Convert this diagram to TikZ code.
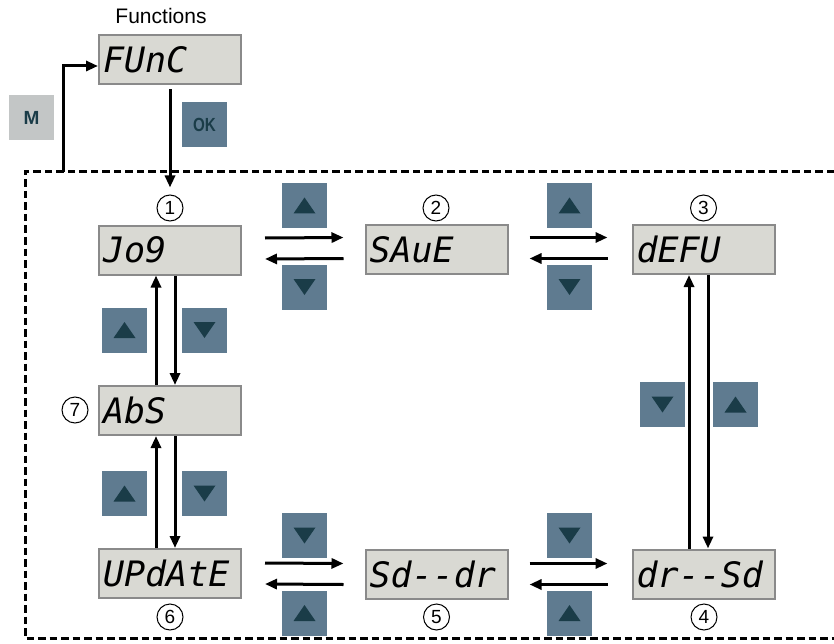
\documentclass[tikz,border=0pt]{standalone}
\usepackage{fontspec}
\setmainfont{Liberation Sans}
\newfontfamily\segfont{DejaVu Sans Mono}
\usetikzlibrary{arrows.meta,calc}
\definecolor{dispfill}{HTML}{D9D9D3}
\definecolor{displine}{HTML}{8A8A8A}
\definecolor{btnfill}{HTML}{5F7B90}
\definecolor{tridark}{HTML}{1A3C48}
\definecolor{mfill}{HTML}{C3C6C6}
\newcommand\numfont{\fontsize{19}{19}\selectfont}
\newcommand\keyfont{\fontsize{19}{19}\selectfont\bfseries}
\tikzset{
  disp/.style={draw=displine, line width=2pt, fill=dispfill, minimum width=142pt,
    minimum height=49pt, text width=134pt, align=left, inner xsep=4pt,
    font=\segfont\itshape\fontsize{35}{35}\selectfont},
  num/.style={draw, circle, line width=1pt, minimum size=26pt, inner sep=0pt},
  arr/.style={line width=3pt, -{Triangle[length=12pt,width=10pt]}},
  frame/.style={line width=3pt, dash pattern=on 7.5pt off 4pt},
  upbtn/.pic={\fill[btnfill] (-22.5,-22.5) rectangle (22.5,22.5);
    \fill[tridark] (-11,8) -- (11,8) -- (0,-8) -- cycle;},
  dnbtn/.pic={\fill[btnfill] (-22.5,-22.5) rectangle (22.5,22.5);
    \fill[tridark] (-11,-8) -- (11,-8) -- (0,8) -- cycle;},
  keybox/.style={minimum width=45pt, minimum height=45pt, inner sep=0pt, text=tridark}
}
\begin{document}
\begin{tikzpicture}[x=1pt,y=-1pt]
\useasboundingbox (0,0) rectangle (834,644);
% frame
\draw[frame] (834,172) -- (25,172) -- (25,638) -- (834,638);
\node (title) at (161,16) {\fontsize{21}{21}\selectfont Functions};
\node[disp] (func) at (170,60) {FUnC};
\node[keybox, fill=mfill] (mkey) at (31.5,118) {\keyfont M};
\node[keybox, fill=btnfill] (okkey) at (204.5,124.5) {\keyfont\scalebox{0.8}[1]{OK}};
\coordinate (mstart) at (63,172);
\draw[arr] (mstart) |- ([yshift=-6pt]func.west);
% displays
\node[disp] (jog) at (170,250) {Jo9};
\node[disp] (save) at (436.5,249.5) {SAuE};
\node[disp] (defu) at (703.5,249.5) {dEFU};
\node[disp] (abs) at (170,410.5) {AbS};
\node[disp] (upd) at (170,573.5) {UPdAtE};
\node[disp] (sddr) at (436.5,574) {Sd--dr};
\node[disp] (drsd) at (703.5,574) {dr--Sd};
% numbers
\node[num] (c1) at (170,208) {\numfont 1};
\node[num] (c2) at (436,208) {\numfont 2};
\node[num] (c3) at (703.5,208) {\numfont 3};
\node[num] (c4) at (704,617) {\numfont 4};
\node[num] (c5) at (436.5,617) {\numfont 5};
\node[num] (c6) at (170,617) {\numfont 6};
\node[num] (c7) at (75,410) {\numfont 7};
\draw[arr, shorten <=4pt, shorten >=7pt] (func.south) -- (c1.north);
% buttons
\pic at (304.5,205.5) {upbtn};
\pic at (304.5,287) {dnbtn};
\pic at (569.5,205.5) {upbtn};
\pic at (569.5,287) {dnbtn};
\pic at (124.5,330) {upbtn};
\pic at (204.5,330) {dnbtn};
\pic at (124.5,493.5) {upbtn};
\pic at (204.5,493.5) {dnbtn};
\pic at (662.5,404.5) {dnbtn};
\pic at (735.5,404.5) {upbtn};
\pic at (304.5,535.5) {dnbtn};
\pic at (304.5,613) {upbtn};
\pic at (569.5,535.5) {dnbtn};
\pic at (569.5,613) {upbtn};
% horizontal connectors
\draw[arr] ([xshift=23pt,yshift=12pt]jog.east) -- ([xshift=-21pt,yshift=12pt]save.west);
\draw[arr] ([xshift=-21pt,yshift=-9pt]save.west) -- ([xshift=23pt,yshift=-9pt]jog.east);
\draw[arr] ([xshift=21pt,yshift=12pt]save.east) -- ([xshift=-24pt,yshift=12pt]defu.west);
\draw[arr] ([xshift=-24pt,yshift=-9pt]defu.west) -- ([xshift=21pt,yshift=-9pt]save.east);
\draw[arr] ([xshift=23pt,yshift=10.5pt]upd.east) -- ([xshift=-21pt,yshift=10.5pt]sddr.west);
\draw[arr] ([xshift=-21pt,yshift=-10.5pt]sddr.west) -- ([xshift=23pt,yshift=-10.5pt]upd.east);
\draw[arr] ([xshift=21pt,yshift=10.5pt]sddr.east) -- ([xshift=-24pt,yshift=10.5pt]drsd.west);
\draw[arr] ([xshift=-24pt,yshift=-10.5pt]drsd.west) -- ([xshift=21pt,yshift=-10.5pt]sddr.east);
% vertical connectors
\draw[arr] ([xshift=-14pt]abs.north) -- ([xshift=-14pt]jog.south);
\draw[arr] ([xshift=5pt]jog.south) -- ([xshift=5pt]abs.north);
\draw[arr] ([xshift=-14pt]upd.north) -- ([xshift=-14pt]abs.south);
\draw[arr] ([xshift=5pt]abs.south) -- ([xshift=5pt]upd.north);
\draw[arr] ([xshift=-14.5pt]drsd.north) -- ([xshift=-14.5pt]defu.south);
\draw[arr] ([xshift=4.5pt]defu.south) -- ([xshift=4.5pt]drsd.north);
\end{tikzpicture}
\end{document}
